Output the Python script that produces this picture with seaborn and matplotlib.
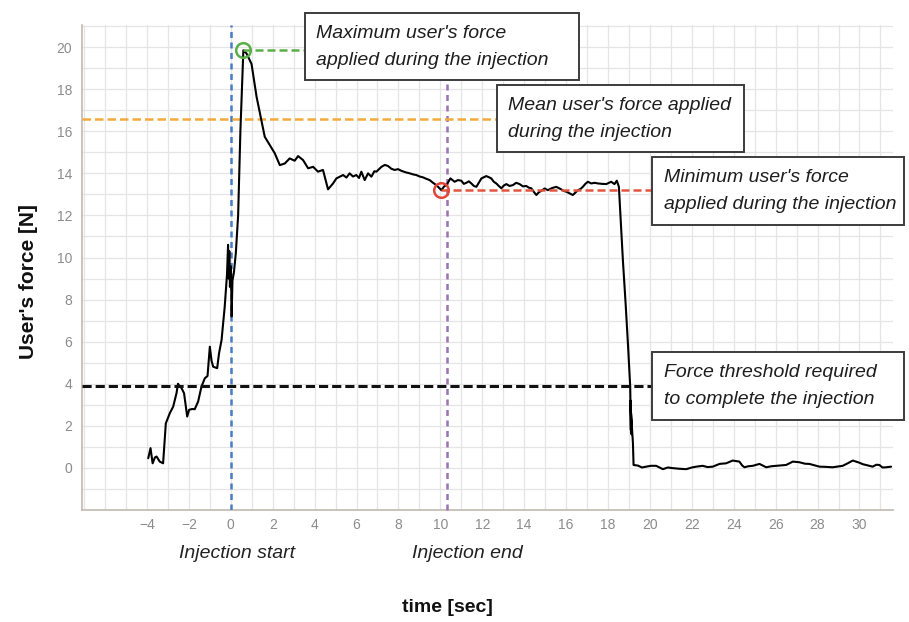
import numpy as np
import pandas as pd
import matplotlib
matplotlib.use("Agg")
import matplotlib.pyplot as plt
from matplotlib.patches import Rectangle
import seaborn as sns

# Force trace recorded by the device (time in seconds, force in newtons)
time_s = [
    -3.94, -3.83, -3.73, -3.62, -3.54, -3.39, -3.23, -3.10, -2.91, -2.75,
    -2.59, -2.52, -2.46, -2.35, -2.23, -2.08, -1.99, -1.85, -1.72, -1.56,
    -1.40, -1.24, -1.11, -1.00, -0.92, -0.84, -0.65, -0.56, -0.44, -0.29,
    -0.18, -0.13, -0.10, -0.07, -0.04, -0.01, 0.02, 0.04, 0.08, 0.15,
    0.24, 0.35, 0.46, 0.60, 0.75, 0.99, 1.23, 1.46, 1.62, 1.86,
    2.10, 2.34, 2.58, 2.81, 3.05, 3.21, 3.45, 3.69, 3.93, 4.16,
    4.40, 4.52, 4.64, 4.88, 5.04, 5.20, 5.36, 5.52, 5.67, 5.83,
    5.99, 6.12, 6.23, 6.39, 6.55, 6.71, 6.85, 6.95, 7.19, 7.35,
    7.50, 7.66, 7.82, 7.98, 8.14, 8.34, 8.54, 8.70, 8.85, 9.01,
    9.17, 9.33, 9.49, 9.65, 9.81, 9.95, 10.05, 10.18, 10.29, 10.48,
    10.68, 10.84, 11.00, 11.12, 11.24, 11.36, 11.48, 11.60, 11.72, 11.96,
    12.19, 12.31, 12.43, 12.55, 12.67, 12.79, 12.91, 13.03, 13.15, 13.30,
    13.46, 13.62, 13.78, 13.94, 14.10, 14.22, 14.34, 14.46, 14.58, 14.70,
    14.82, 14.98, 15.13, 15.33, 15.53, 15.65, 15.77, 15.89, 16.01, 16.16,
    16.32, 16.44, 16.56, 16.68, 16.80, 16.92, 17.04, 17.20, 17.36, 17.52,
    17.72, 17.92, 18.15, 18.31, 18.42, 18.52, 18.58, 18.71, 18.84, 18.95,
    19.06, 19.09, 19.08, 19.12, 19.10, 19.19, 19.22, 19.43, 19.62, 19.82,
    20.05, 20.30, 20.62, 20.85, 21.09, 21.40, 21.73, 22.00, 22.21, 22.52,
    22.75, 23.00, 23.32, 23.64, 23.95, 24.27, 24.40, 24.51, 24.70, 24.91,
    25.23, 25.55, 25.80, 26.02, 26.50, 26.82, 27.13, 27.40, 27.61, 28.09,
    28.40, 28.72, 29.20, 29.44, 29.68, 29.99, 30.15, 30.31, 30.63, 30.80,
    30.95, 31.10, 31.27, 31.51,
]
force_n = [
    0.46, 0.94, 0.22, 0.50, 0.54, 0.30, 0.22, 2.12, 2.60, 2.91,
    3.55, 4.00, 3.91, 3.79, 3.55, 2.44, 2.76, 2.80, 2.79, 3.15,
    3.86, 4.26, 4.37, 5.76, 5.10, 4.81, 4.74, 5.45, 6.08, 7.66,
    9.20, 10.60, 9.00, 10.30, 8.60, 9.60, 8.70, 7.20, 8.90, 9.30,
    10.20, 12.00, 16.06, 19.85, 19.70, 19.20, 17.64, 16.53, 15.74, 15.34,
    14.95, 14.39, 14.47, 14.71, 14.60, 14.82, 14.63, 14.24, 14.31, 14.08,
    14.16, 13.70, 13.24, 13.52, 13.76, 13.84, 13.92, 13.80, 14.00, 13.85,
    13.92, 13.78, 14.08, 13.68, 14.00, 13.84, 14.10, 14.08, 14.31, 14.40,
    14.35, 14.22, 14.16, 14.20, 14.12, 14.05, 14.00, 13.95, 13.92, 13.85,
    13.81, 13.74, 13.68, 13.55, 13.44, 13.30, 13.20, 13.38, 13.44, 13.76,
    13.60, 13.68, 13.65, 13.50, 13.55, 13.62, 13.52, 13.40, 13.36, 13.76,
    13.87, 13.82, 13.76, 13.60, 13.52, 13.40, 13.29, 13.42, 13.49, 13.40,
    13.44, 13.55, 13.49, 13.38, 13.40, 13.32, 13.29, 13.12, 12.97, 13.10,
    13.17, 13.28, 13.20, 13.30, 13.36, 13.30, 13.24, 13.16, 13.13, 13.05,
    12.97, 13.08, 13.20, 13.25, 13.36, 13.50, 13.60, 13.52, 13.55, 13.52,
    13.50, 13.49, 13.60, 13.49, 13.65, 13.36, 12.26, 9.88, 7.82, 5.92,
    3.86, 1.80, 3.20, 1.60, 2.60, 1.17, 0.14, 0.11, 0.02, 0.06,
    0.10, 0.10, -0.06, 0.02, -0.01, -0.04, -0.06, 0.02, 0.06, 0.10,
    0.04, 0.06, 0.19, 0.22, 0.35, 0.30, 0.12, 0.03, 0.08, 0.10,
    0.19, 0.03, 0.08, 0.10, 0.14, 0.30, 0.27, 0.20, 0.19, 0.06,
    0.05, 0.03, 0.10, 0.22, 0.35, 0.25, 0.18, 0.14, 0.06, 0.15,
    0.14, 0.02, 0.03, 0.06,
]

INJECTION_START = 0.0
INJECTION_END = 10.3
PEAK_TIME, PEAK_FORCE = 0.60, 19.85
MIN_TIME, MIN_FORCE = 10.05, 13.20
MEAN_FORCE = 16.6
THRESHOLD_FORCE = 3.9

x_ticks = list(range(-4, 31, 2))
y_ticks = list(range(0, 21, 2))

sns.set_theme(style="white")
plt.rcParams["font.family"] = ["Liberation Sans", "DejaVu Sans"]

W, H = 909, 622
fig = plt.figure(figsize=(W / 100, H / 100), dpi=100)
fig.patch.set_facecolor("white")
ax = fig.add_axes([82 / W, 1 - 510 / H, 811 / W, 485 / H])
ax.set_facecolor("white")

df = pd.DataFrame({"time": time_s, "force": force_n})
sns.lineplot(data=df, x="time", y="force", ax=ax, color="black",
             linewidth=1.5, estimator=None, sort=False, zorder=5)

ax.set_xlim(-7.1, 31.6)
ax.set_ylim(-2.0, 21.05)
ax.set_xticks(x_ticks)
ax.set_yticks(y_ticks)
ax.set_xticks(range(-7, 32), minor=True)
ax.set_yticks(range(-2, 22), minor=True)
ax.grid(which="both", color="#e6e4e4", linewidth=0.9)
ax.set_axisbelow(True)
ax.tick_params(which="both", length=0, labelsize=10, labelcolor="#8c8c8c")
ax.tick_params(axis="y", pad=7)
ax.tick_params(axis="x", pad=6)
for s in ["top", "right"]:
    ax.spines[s].set_visible(False)
for s in ["left", "bottom"]:
    ax.spines[s].set_color("#c2b9b0")
    ax.spines[s].set_linewidth(1.2)

ax.set_xlabel("time [sec]", fontsize=14, fontweight="bold", color="#111111")
ax.xaxis.set_label_coords(0.451, -0.20)
ax.xaxis.label.set_va("center")
ax.set_ylabel("User's force [N]", fontsize=15, fontweight="bold", color="#111111")
ax.yaxis.set_label_coords(-0.066, 0.472)
ax.yaxis.label.set_va("center")

ax.text(0.191, -0.089, "Injection start", transform=ax.transAxes, ha="center",
        va="center", fontsize=14, style="italic", color="#222222")
ax.text(0.475, -0.089, "Injection end", transform=ax.transAxes, ha="center",
        va="center", fontsize=14, style="italic", color="#222222")

# Annotation boxes (data-space extents, drawn outside the clip region)
boxes = {
    "max": (3.53, 16.64, 18.43, 21.6, "Maximum user's force\napplied during the injection"),
    "mean": (12.68, 24.51, 15.01, 18.19, "Mean user's force applied\nduring the injection"),
    "min": (20.12, 32.14, 11.54, 14.77, "Minimum user's force\napplied during the injection"),
    "thr": (20.12, 32.14, 2.28, 5.51, "Force threshold required\nto complete the injection"),
}

# Reference markers
ax.axvline(INJECTION_START, color="#4a7cc6", lw=1.8, dashes=(2.4, 1.8), zorder=3)
ax.plot([INJECTION_END, INJECTION_END], [-2.0, boxes["max"][2]], color="#9b74b6",
        lw=1.8, dashes=(2.4, 1.8), zorder=3, clip_on=False)
ax.plot([-7.1, boxes["mean"][0]], [MEAN_FORCE, MEAN_FORCE], color="#f2aa3c",
        lw=1.8, dashes=(3.4, 1.6), zorder=3)
ax.plot([-7.1, boxes["thr"][0]], [THRESHOLD_FORCE, THRESHOLD_FORCE], color="#111111",
        lw=2.2, dashes=(3.0, 1.3), zorder=6)
ax.plot([PEAK_TIME, boxes["max"][0]], [PEAK_FORCE, PEAK_FORCE], color="#5aae4a",
        lw=1.8, dashes=(3.2, 1.6), zorder=6)
ax.plot([MIN_TIME, boxes["min"][0]], [MIN_FORCE, MIN_FORCE], color="#e0563e",
        lw=1.8, dashes=(3.2, 1.6), zorder=6)
ax.plot([PEAK_TIME], [PEAK_FORCE], marker="o", ms=10.5, mfc="none", mec="#5aae4a",
        mew=1.8, zorder=7)
ax.plot([MIN_TIME], [MIN_FORCE], marker="o", ms=10.5, mfc="none", mec="#e0463a",
        mew=1.8, zorder=7)

for x0, x1, y0, y1, label in boxes.values():
    ax.add_patch(Rectangle((x0, y0), x1 - x0, y1 - y0, facecolor="white",
                           edgecolor="#3c3c3c", linewidth=1.4, zorder=10, clip_on=False))
    ax.text(x0 + 0.55, (y0 + y1) / 2, label, ha="left", va="center", fontsize=14,
            style="italic", color="#1e1e1e", linespacing=1.75, zorder=11, clip_on=False)

fig.savefig("out.png", dpi=100, facecolor="white")
